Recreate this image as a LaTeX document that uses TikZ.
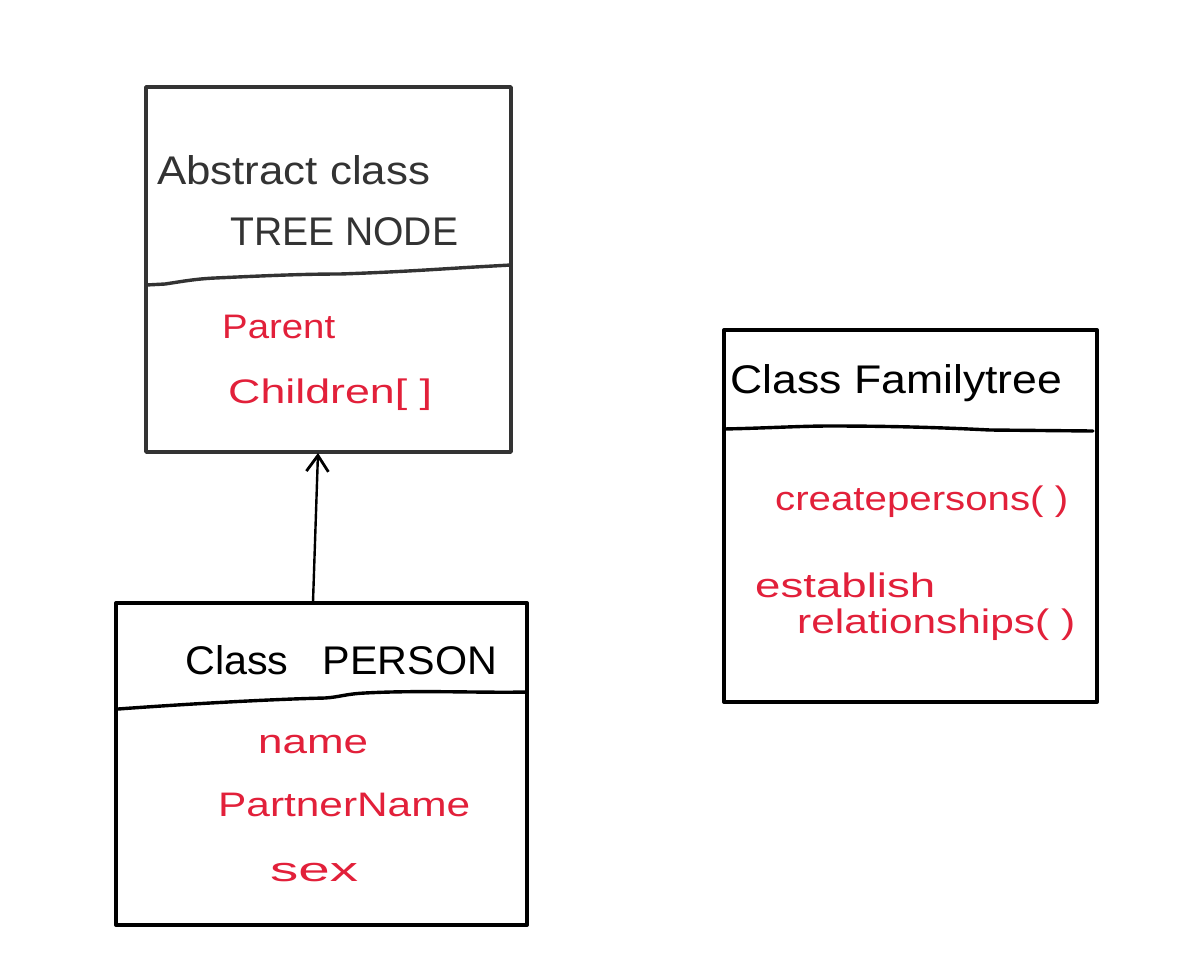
\documentclass[tikz,border=0pt]{standalone}
\usepackage{fontspec}
\setmainfont{Liberation Sans}
\usetikzlibrary{arrows.meta}
\definecolor{hred}{RGB}{226,32,58}
\definecolor{dgray}{RGB}{51,51,51}
\newcommand{\fitw}[2]{\resizebox{#1}{\height}{#2}}
\tikzset{
  box/.style={line width=4pt, line join=round},
  divider/.style={line width=3.4pt, line cap=round},
  title/.style={anchor=west, inner sep=0pt, text=black, font=\fontsize{40}{42}\selectfont},
  member/.style={anchor=west, inner sep=0pt, text=hred, font=\fontsize{34}{36}\selectfont},
  inherit/.style={line width=2.4pt, -{Straight Barb[length=16pt,width=22pt,line width=2.8pt]}}
}
\begin{document}
\begin{tikzpicture}[x=1pt,y=-1pt]
\useasboundingbox[fill=white] (0,0) rectangle (1180,962);

% TREE NODE box
\draw[box, draw=dgray, line width=3.6pt] (146,87) rectangle (511,452);
\coordinate (tnL) at (146,285);
\coordinate (tnR) at (511,265);
\draw[divider, draw=dgray] (tnL) -- (165,284) .. controls (185,281) and (195,279) .. (215,278)
  .. controls (260,276) and (300,274) .. (340,274) .. controls (400,272) and (440,269) .. (475,267) -- (tnR);
\node[title, text=dgray] (tn1) at (157,170) {\fitw{273pt}{Abstract class}};
\node[title, text=dgray] (tn2) at (230,232) {\fitw{228pt}{TREE NODE}};
\node[member] (tn3) at (222,327) {\fitw{113pt}{Parent}};
\node[member] (tn4) at (228,395) {\fitw{204pt}{Children[ ]}};

% PERSON box
\draw[box] (116,603) rectangle (527,925);
\node (person) at (313,603) {};
\coordinate (pL) at (118,709);
\coordinate (pR) at (527,692);
\draw[divider] (pL) .. controls (200,703) and (280,699) .. (325,698)
  .. controls (340,697) and (345,694) .. (365,693) .. controls (420,690) and (480,693) .. (pR);
\node[title] (p1) at (185,660) {\fitw{312pt}{Class\ \ \ PERSON}};
\node[member] (p2) at (258,745) {\fitw{110pt}{name}};
\node[member] (p3) at (218,805) {\fitw{252pt}{PartnerName}};
\node[member] (p4) at (270,873) {\fitw{88pt}{sex}};

% Familytree box
\draw[box] (724,330) rectangle (1097,702);
\coordinate (fL) at (724,429);
\coordinate (fR) at (1093,431);
\draw[divider] (fL) .. controls (770,428) and (800,426) .. (830,426)
  .. controls (900,426) and (950,428) .. (990,430) -- (fR);
\node[title] (f1) at (730,383) {\fitw{332pt}{Class Familytree}};
\node[member] (f2) at (775,502) {\fitw{293pt}{createpersons( )}};
\node[member] (f3) at (755,585) {\fitw{180pt}{establish}};
\node[member] (f4) at (797,625) {\fitw{278pt}{relationships( )}};

% inheritance arrow
\coordinate (arrTop) at (318,453);
\draw[inherit] (313,602) -- (arrTop);
\end{tikzpicture}
\end{document}
